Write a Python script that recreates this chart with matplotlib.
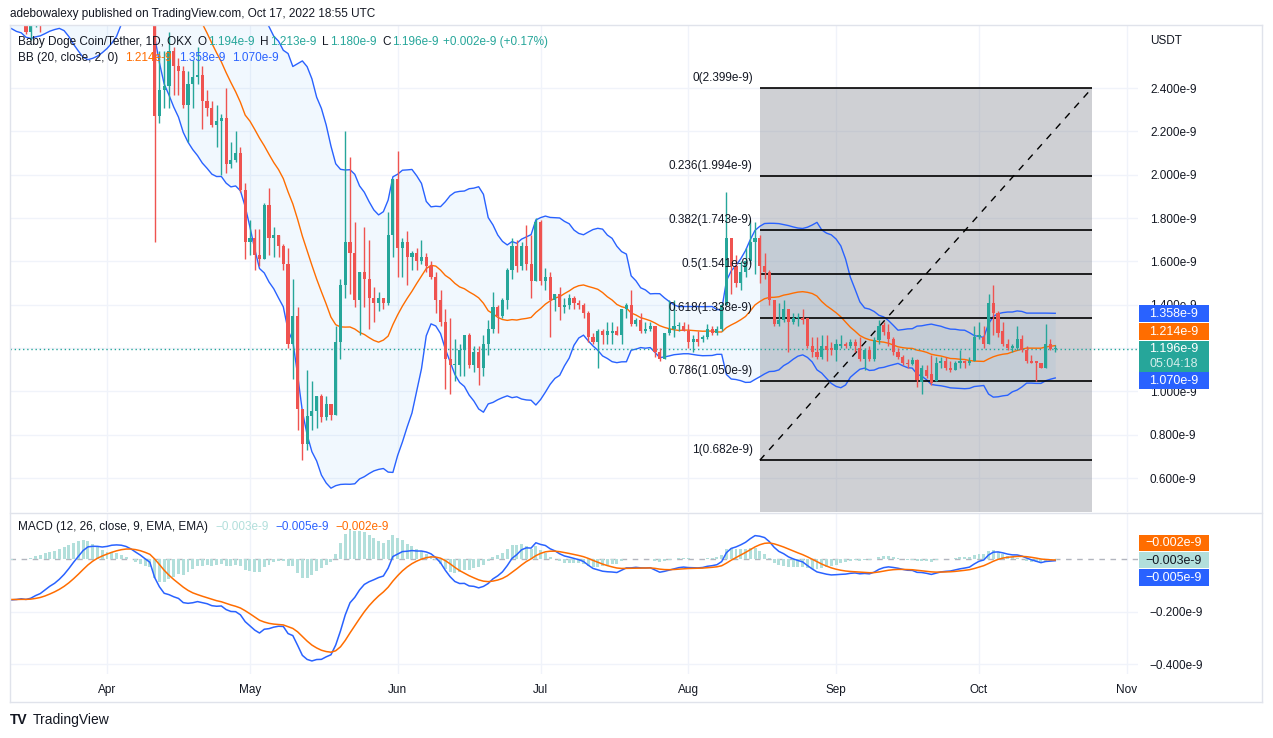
import numpy as np
import pandas as pd
import matplotlib
matplotlib.use("Agg")
import matplotlib.pyplot as plt
from matplotlib.patches import Rectangle
from matplotlib.lines import Line2D

FONT = ['Liberation Sans', 'DejaVu Sans']
plt.rcParams['font.family'] = FONT

W, H = 1273, 738
FS = 8.5

# ---------------- data (prices in units of 1e-9 USDT); day 0 = 2022-04-01 ----------------
warmup_close = [3.62, 3.66, 3.60, 3.68, 3.64, 3.70, 3.66, 3.62, 3.58, 3.60,
                3.54, 3.50, 3.44, 3.46, 3.40, 3.34, 3.36, 3.30, 3.28, 3.30,
                3.26, 3.22, 3.20, 3.16, 3.12, 3.10, 3.06, 3.02, 3.00, 2.96,
                2.96, 2.92, 2.90, 2.88, 2.86, 2.84, 2.82, 2.80, 2.80, 2.78]  # days -60..-21
first_day = -20

opens = [2.78, 2.76, 2.74, 2.74, 2.66, 2.72, 2.78, 2.76, 2.84, 2.86,
         2.85, 2.92, 2.99, 3.08, 3.16, 3.20, 3.26, 3.22, 3.12, 3.10,
         3.08, 3.14, 3.18, 3.16, 3.14, 3.10, 3.04, 2.98, 2.96, 2.90,
         2.87, 2.27, 2.39, 2.41, 2.57, 2.50, 2.48, 2.32, 2.42, 2.45,
         2.46, 2.34, 2.31, 2.23, 2.25, 2.26, 2.05, 2.07, 2.10, 1.93,
         1.69, 1.71, 1.63, 1.61, 1.86, 1.71, 1.72, 1.67, 1.59, 1.22,
         1.35, 0.92, 0.755, 0.885, 0.91, 0.98, 0.88, 0.94, 0.89, 1.23,
         1.49, 1.69, 1.64, 1.42, 1.55, 1.52, 1.43, 1.41, 1.43, 1.41,
         1.72, 1.98, 1.66, 1.69, 1.62, 1.64, 1.60, 1.62, 1.58, 1.53,
         1.42, 1.32, 1.15, 1.12, 1.12, 1.19, 1.26, 1.12, 1.18, 1.11,
         1.22, 1.29, 1.39, 1.35, 1.42, 1.56, 1.67, 1.58, 1.67, 1.59,
         1.51, 1.78, 1.51, 1.53, 1.42, 1.45, 1.39, 1.40, 1.43, 1.41,
         1.40, 1.36, 1.25, 1.23, 1.28, 1.26, 1.27, 1.28, 1.26, 1.38,
         1.40, 1.31, 1.33, 1.28, 1.29, 1.30, 1.18, 1.15, 1.27, 1.29,
         1.30, 1.30, 1.28, 1.23, 1.24, 1.24, 1.25, 1.29, 1.27, 1.29,
         1.40, 1.71, 1.58, 1.50, 1.55, 1.60, 1.69, 1.71, 1.58, 1.55,
         1.42, 1.31, 1.33, 1.38, 1.32, 1.34, 1.34, 1.34, 1.21, 1.18,
         1.16, 1.21, 1.20, 1.19, 1.21, 1.22, 1.21, 1.23, 1.20, 1.15,
         1.19, 1.15, 1.237, 1.307, 1.275, 1.24, 1.18, 1.16, 1.13, 1.125,
         1.145, 1.045, 1.10, 1.08, 1.05, 1.13, 1.14, 1.11, 1.10, 1.13,
         1.14, 1.13, 1.14, 1.25, 1.25, 1.22, 1.41, 1.36, 1.28, 1.22,
         1.20, 1.20, 1.24, 1.19, 1.14, 1.14, 1.13, 1.11, 1.22, 1.194]
highs = [2.84, 2.80, 2.80, 2.78, 2.76, 2.80, 2.82, 2.88, 2.90, 2.92,
         2.96, 3.04, 3.12, 3.22, 3.26, 3.32, 3.34, 3.26, 3.18, 3.16,
         3.18, 3.22, 3.22, 3.20, 3.16, 3.12, 3.06, 3.02, 2.99, 2.94,
         2.89, 2.57, 2.57, 2.66, 2.59, 2.54, 2.50, 2.48, 2.53, 2.59,
         2.50, 2.39, 2.34, 2.32, 2.28, 2.40, 2.15, 2.20, 2.13, 1.96,
         1.79, 1.75, 1.75, 1.87, 1.94, 1.76, 1.72, 1.68, 1.66, 1.52,
         1.39, 0.92, 1.10, 1.05, 0.98, 0.99, 0.98, 0.94, 1.30, 1.52,
         2.20, 2.08, 1.78, 1.55, 1.76, 1.70, 1.48, 1.46, 1.43, 1.83,
         1.98, 2.11, 1.71, 1.74, 1.65, 1.66, 1.70, 1.64, 1.60, 1.55,
         1.47, 1.38, 1.34, 1.24, 1.22, 1.26, 1.27, 1.21, 1.21, 1.26,
         1.33, 1.46, 1.40, 1.43, 1.57, 1.71, 1.70, 1.69, 1.77, 1.72,
         1.80, 1.79, 1.57, 1.55, 1.45, 1.48, 1.43, 1.45, 1.44, 1.42,
         1.41, 1.37, 1.27, 1.29, 1.29, 1.32, 1.32, 1.30, 1.38, 1.41,
         1.47, 1.34, 1.36, 1.32, 1.32, 1.30, 1.20, 1.27, 1.42, 1.42,
         1.32, 1.32, 1.31, 1.26, 1.28, 1.26, 1.31, 1.30, 1.30, 1.41,
         1.92, 1.71, 1.63, 1.60, 1.66, 1.79, 1.78, 1.72, 1.64, 1.56,
         1.42, 1.41, 1.42, 1.38, 1.36, 1.36, 1.38, 1.34, 1.25, 1.25,
         1.26, 1.26, 1.23, 1.24, 1.26, 1.23, 1.24, 1.24, 1.25, 1.20,
         1.21, 1.25, 1.33, 1.32, 1.31, 1.25, 1.20, 1.17, 1.15, 1.16,
         1.15, 1.12, 1.12, 1.17, 1.16, 1.16, 1.16, 1.14, 1.14, 1.19,
         1.145, 1.16, 1.30, 1.32, 1.30, 1.45, 1.49, 1.37, 1.32, 1.24,
         1.22, 1.30, 1.26, 1.21, 1.17, 1.14, 1.13, 1.31, 1.24, 1.213]
lows = [2.72, 2.70, 2.69, 2.65, 2.62, 2.68, 2.66, 2.72, 2.78, 2.80,
        2.80, 2.88, 2.95, 3.02, 3.10, 3.14, 3.16, 3.08, 3.02, 3.02,
        3.04, 3.10, 3.12, 3.10, 3.06, 3.00, 2.94, 2.92, 2.86, 2.82,
        1.69, 2.24, 2.31, 2.31, 2.37, 2.37, 2.31, 2.15, 2.31, 2.42,
        2.21, 2.27, 2.22, 2.13, 2.00, 2.01, 2.03, 2.06, 1.92, 1.61,
        1.63, 1.56, 1.58, 1.61, 1.63, 1.62, 1.62, 1.56, 1.20, 1.055,
        0.82, 0.682, 0.73, 0.82, 0.83, 0.86, 0.87, 0.87, 0.89, 1.15,
        1.43, 1.45, 1.39, 1.26, 1.39, 1.29, 1.32, 1.37, 1.38, 1.40,
        1.62, 1.53, 1.53, 1.49, 1.56, 1.56, 1.59, 1.55, 1.52, 1.36,
        1.30, 1.01, 0.99, 1.05, 1.07, 1.07, 1.11, 1.09, 1.03, 1.07,
        1.17, 1.27, 1.27, 1.34, 1.38, 1.52, 1.55, 1.56, 1.56, 1.43,
        1.51, 1.49, 1.47, 1.25, 1.37, 1.33, 1.36, 1.38, 1.38, 1.38,
        1.34, 1.23, 1.22, 1.11, 1.22, 1.22, 1.22, 1.26, 1.22, 1.34,
        1.30, 1.30, 1.27, 1.27, 1.28, 1.16, 1.14, 1.15, 1.26, 1.25,
        1.28, 1.28, 1.20, 1.18, 1.21, 1.23, 1.24, 1.26, 1.26, 1.28,
        1.40, 1.45, 1.48, 1.47, 1.53, 1.59, 1.54, 1.50, 1.52, 1.40,
        1.30, 1.30, 1.32, 1.18, 1.31, 1.30, 1.31, 1.20, 1.16, 1.15,
        1.15, 1.14, 1.17, 1.14, 1.20, 1.20, 1.20, 1.18, 1.14, 1.10,
        1.14, 1.14, 1.22, 1.26, 1.21, 1.17, 1.15, 1.12, 1.11, 1.12,
        1.02, 0.99, 1.06, 1.03, 1.05, 1.11, 1.10, 1.09, 1.10, 1.11,
        1.11, 1.12, 1.14, 1.24, 1.20, 1.22, 1.26, 1.25, 1.21, 1.19,
        1.18, 1.19, 1.18, 1.13, 1.13, 1.05, 1.11, 1.11, 1.19, 1.180]
closes = [2.76, 2.74, 2.74, 2.66, 2.72, 2.78, 2.76, 2.84, 2.86, 2.85,
          2.92, 2.99, 3.08, 3.16, 3.20, 3.26, 3.22, 3.12, 3.10, 3.08,
          3.14, 3.18, 3.16, 3.14, 3.10, 3.04, 2.98, 2.96, 2.90, 2.87,
          2.27, 2.39, 2.41, 2.57, 2.50, 2.48, 2.32, 2.42, 2.45, 2.46,
          2.34, 2.31, 2.23, 2.25, 2.26, 2.05, 2.07, 2.10, 1.93, 1.69,
          1.71, 1.63, 1.61, 1.86, 1.71, 1.72, 1.67, 1.59, 1.22, 1.35,
          0.92, 0.755, 0.885, 0.91, 0.98, 0.88, 0.94, 0.89, 1.23, 1.49,
          1.69, 1.64, 1.42, 1.55, 1.52, 1.43, 1.41, 1.43, 1.41, 1.72,
          1.98, 1.66, 1.69, 1.62, 1.64, 1.60, 1.62, 1.58, 1.53, 1.42,
          1.32, 1.15, 1.12, 1.12, 1.19, 1.26, 1.12, 1.18, 1.11, 1.22,
          1.29, 1.39, 1.35, 1.42, 1.56, 1.67, 1.58, 1.67, 1.59, 1.51,
          1.78, 1.51, 1.53, 1.42, 1.45, 1.39, 1.40, 1.43, 1.41, 1.40,
          1.36, 1.25, 1.23, 1.28, 1.26, 1.28, 1.28, 1.26, 1.38, 1.40,
          1.31, 1.33, 1.28, 1.29, 1.30, 1.18, 1.15, 1.27, 1.29, 1.30,
          1.30, 1.28, 1.23, 1.24, 1.23, 1.25, 1.29, 1.27, 1.29, 1.40,
          1.71, 1.58, 1.50, 1.55, 1.60, 1.69, 1.71, 1.58, 1.55, 1.42,
          1.31, 1.33, 1.38, 1.32, 1.34, 1.34, 1.33, 1.21, 1.18, 1.16,
          1.21, 1.19, 1.19, 1.22, 1.22, 1.21, 1.23, 1.21, 1.15, 1.19,
          1.15, 1.237, 1.30, 1.275, 1.24, 1.18, 1.16, 1.13, 1.125, 1.145,
          1.052, 1.108, 1.07, 1.04, 1.13, 1.14, 1.11, 1.10, 1.13, 1.14,
          1.13, 1.14, 1.25, 1.26, 1.22, 1.41, 1.36, 1.27, 1.22, 1.20,
          1.21, 1.24, 1.19, 1.14, 1.13, 1.13, 1.11, 1.22, 1.194, 1.196]

bb_last = [1.214, 1.358, 1.070]        # basis, upper, lower (legend / tags)
macd_last = [-0.003, -0.005, -0.002]   # histogram, macd, signal (legend / tags)
countdown = "05:04:18"

months = ['Apr', 'May', 'Jun', 'Jul', 'Aug', 'Sep', 'Oct', 'Nov']
month_days = [0, 30, 61, 91, 122, 153, 183, 214]
price_ticks = [0.6, 0.8, 1.0, 1.2, 1.4, 1.6, 1.8, 2.0, 2.2, 2.4]
macd_ticks = [-0.4, -0.2]

fib_levels = [0, 0.236, 0.382, 0.5, 0.618, 0.786, 1]
fib_prices = [2.399, 1.994, 1.743, 1.541, 1.338, 1.050, 0.682]
fib_fill_bottom = -0.379            # 1.618 level (off screen)
fib_start_day, fib_end_day = 137.0, 206.7

# ---------------- indicators ----------------
days = np.arange(first_day, first_day + len(closes))
all_close = pd.Series(warmup_close + closes, dtype=float)
all_days = np.arange(first_day - len(warmup_close), first_day + len(closes))
basis = all_close.rolling(20).mean()
sd = all_close.rolling(20).std(ddof=0)
upper = basis + 2 * sd
lower = basis - 2 * sd
ema12 = all_close.ewm(span=12, adjust=False).mean()
ema26 = all_close.ewm(span=26, adjust=False).mean()
macd = ema12 - ema26
signal = macd.ewm(span=9, adjust=False).mean()
hist = macd - signal

o = np.array(opens); h = np.array(highs); l = np.array(lows); c = np.array(closes)

GREEN = '#26a69a'; RED = '#ef5350'; BLUE = '#2962ff'; ORANGE = '#ff6d00'
TXT = '#131722'; GRID = '#f0f3fa'; BORDER = '#e0e3eb'

fig = plt.figure(figsize=(W / 100, H / 100), dpi=100)
fig.patch.set_facecolor('white')

def fx(px): return px / W
def fy(py): return 1 - py / H

PX_PER_DAY = 4.765
X0 = 107  # pixel of day 0
XL = ((10 - X0) / PX_PER_DAY, (1138 - X0) / PX_PER_DAY)
ax = fig.add_axes([fx(10), fy(512), (1138 - 10) / W, (512 - 25) / H])
ax2 = fig.add_axes([fx(10), fy(674), (1138 - 10) / W, (674 - 513) / H])
for a in (ax, ax2):
    a.set_xlim(*XL)
    for s in a.spines.values():
        s.set_visible(False)
    a.set_facecolor('none')
    a.set_axisbelow(True)
    a.set_xticks(month_days)
    a.grid(True, color=GRID, lw=1, zorder=0)
ax.set_ylim(0.4431, 2.6908)
ax2.set_ylim(-0.4382, 0.1769)

ax.yaxis.tick_right()
ax.set_yticks(price_ticks)
ax.set_yticklabels([f"{v:.3f}e-9" for v in price_ticks])
ax.tick_params(axis='y', length=0, pad=8.6, labelsize=FS, labelcolor=TXT)
ax.tick_params(axis='x', length=0, labelbottom=False)

ax2.yaxis.tick_right()
ax2.set_yticks(macd_ticks)
ax2.set_yticklabels(["\u2212" + f"{abs(v):.3f}e-9" for v in macd_ticks])
ax2.tick_params(axis='y', length=0, pad=8.6, labelsize=FS, labelcolor=TXT)
ax2.set_xticklabels(months)
ax2.tick_params(axis='x', length=0, pad=7.5, labelsize=FS, labelcolor=TXT)

# Fibonacci retracement background
ax.add_patch(Rectangle((fib_start_day, fib_fill_bottom), fib_end_day - fib_start_day,
                       fib_prices[0] - fib_fill_bottom, facecolor='#787b86', alpha=0.35,
                       lw=0, zorder=1))

# Bollinger bands
ax.fill_between(all_days, lower, upper, color='#2196f3', alpha=0.06, lw=0, zorder=2)
ax.plot(all_days, upper, color=BLUE, lw=1, zorder=3)
ax.plot(all_days, lower, color=BLUE, lw=1, zorder=3)
ax.plot(all_days, basis, color=ORANGE, lw=1, zorder=3)

# fib levels
ax.hlines(fib_prices, fib_start_day, fib_end_day, colors='black', lw=1.2, zorder=3.5)
ax.plot([fib_start_day, fib_end_day], [fib_prices[-1], fib_prices[0]], color='black',
        lw=1, ls=(0, (5, 5)), zorder=3.5)
for lv, p in zip(fib_levels, fib_prices):
    ax.annotate(f"{lv:g}({p:.3f}e-9)", xy=(fib_start_day, p), xytext=(-7, 10),
                textcoords='offset pixels', ha='right', va='center', fontsize=FS,
                color=TXT, zorder=6)

# candles
cols = np.where(c >= o, GREEN, RED)
ax.vlines(days, l, h, colors=cols, lw=1, zorder=4)
ax.bar(days, np.maximum(np.abs(c - o), 0.005), bottom=np.minimum(o, c), width=0.66,
       color=cols, lw=0, zorder=5)

# current price line
ax.axhline(c[-1], color=GREEN, lw=1, ls=(0, (1, 2)), zorder=3)

# MACD
ax2.axhline(0, color='#b2b5be', lw=1, ls=(0, (4, 4)), zorder=1)
ax2.bar(all_days, hist, width=0.62, color='#b2dfdb', lw=0, zorder=2)
ax2.plot(all_days, macd, color=BLUE, lw=1.1, zorder=3)
ax2.plot(all_days, signal, color=ORANGE, lw=1.1, zorder=3)

# ---------------- frame & separators ----------------
def fline(x0, y0, x1, y1, color=BORDER, lw=1):
    fig.add_artist(Line2D([fx(x0), fx(x1)], [fy(y0), fy(y1)], color=color, lw=lw,
                          transform=fig.transFigure))
fline(10, 25, 1262, 25)
fline(10, 701.5, 1262, 701.5)
fline(10, 25, 10, 701.5)
fline(1262, 25, 1262, 701.5)
fline(10, 512.7, 1262, 512.7)

# ---------------- texts ----------------
renderer = fig.canvas.get_renderer()

def seq_text(x_px, y_px, parts):
    x = x_px
    for s, col, gap in parts:
        t = fig.text(fx(x), fy(y_px), s, color=col, fontsize=FS, ha='left', va='center')
        x += t.get_window_extent(renderer=renderer).width + gap

fig.text(fx(10), fy(14), "adebowalexy published on TradingView.com, Oct 17, 2022 18:55 UTC",
         fontsize=FS, color=TXT, ha='left', va='center')

chg = c[-1] - c[-2]
seq_text(18, 42, [("Baby Doge Coin/Tether, 1D, OKX", TXT, 6),
                  ("O", TXT, 1), (f"{o[-1]:.3f}e-9", GREEN, 6),
                  ("H", TXT, 1), (f"{h[-1]:.3f}e-9", GREEN, 6),
                  ("L", TXT, 1), (f"{l[-1]:.3f}e-9", GREEN, 6),
                  ("C", TXT, 1), (f"{c[-1]:.3f}e-9", GREEN, 5),
                  (f"+{chg:.3f}e-9 (+{chg / c[-2] * 100:.2f}%)", GREEN, 0)])
seq_text(18, 58, [("BB (20, close, 2, 0)", TXT, 7),
                  (f"{bb_last[0]:.3f}e-9", ORANGE, 7),
                  (f"{bb_last[1]:.3f}e-9", BLUE, 7),
                  (f"{bb_last[2]:.3f}e-9", BLUE, 0)])
def mfmt(v): return ("\u2212" if v < 0 else "") + f"{abs(v):.3f}e-9"
seq_text(18, 527, [("MACD (12, 26, close, 9, EMA, EMA)", TXT, 7),
                   (mfmt(macd_last[0]), '#b2dfdb', 7),
                   (mfmt(macd_last[1]), BLUE, 7),
                   (mfmt(macd_last[2]), ORANGE, 0)])

fig.text(fx(1150), fy(41), "USDT", fontsize=FS, color=TXT, ha='left', va='center')

# tags on the right scales
def ypx(a, v):
    return H - a.transData.transform((0, v))[1]

TAG_H = 16.7
def tag(yc, text, bg, fg, hgt=TAG_H, sub=None):
    top = yc - TAG_H / 2
    fig.add_artist(Rectangle((fx(1139), fy(top + hgt)), 70 / W, hgt / H, facecolor=bg,
                             edgecolor='none', transform=fig.transFigure, zorder=5))
    fig.text(fx(1174), fy(top + TAG_H / 2 + 0.5), text, color=fg, fontsize=FS + 0.5,
             ha='center', va='center', zorder=6)
    if sub:
        fig.text(fx(1174), fy(top + TAG_H / 2 + 15), sub, color=fg, alpha=0.8,
                 fontsize=FS + 0.5, ha='center', va='center', zorder=6)

y_cur = ypx(ax, c[-1])
tag(y_cur, f"{c[-1]:.3f}e-9", GREEN, 'white', hgt=31, sub=countdown)
y_basis = min(ypx(ax, bb_last[0]), y_cur - TAG_H - 0.5)
tag(y_basis, f"{bb_last[0]:.3f}e-9", ORANGE, 'white')
y_up = min(ypx(ax, bb_last[1]), y_basis - TAG_H - 0.5)
tag(y_up, f"{bb_last[1]:.3f}e-9", BLUE, 'white')
y_lo = max(ypx(ax, bb_last[2]), y_cur - TAG_H / 2 + 31 + TAG_H / 2 + 0.5)
tag(y_lo, f"{bb_last[2]:.3f}e-9", BLUE, 'white')

y_h = ypx(ax2, macd_last[0])
tag(y_h, mfmt(macd_last[0]), '#b2dfdb', TXT)
tag(y_h - TAG_H - 0.5, mfmt(macd_last[2]), ORANGE, 'white')
tag(y_h + TAG_H + 0.5, mfmt(macd_last[1]), BLUE, 'white')

# logo
fig.text(fx(10), fy(720), "TV", fontsize=FS + 1.5, fontweight='bold', color=TXT,
         ha='left', va='center')
fig.text(fx(33), fy(720), "TradingView", fontsize=FS + 1.5, color=TXT, ha='left', va='center')

fig.savefig("out.png", dpi=100, facecolor='white')
